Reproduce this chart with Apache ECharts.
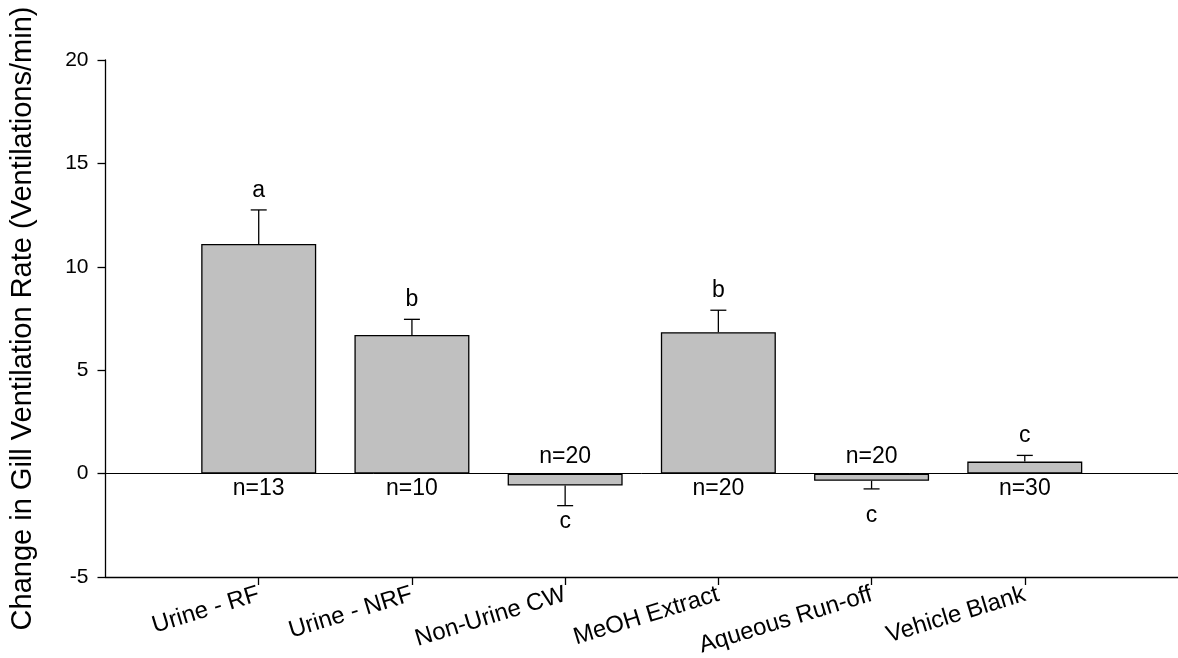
<!DOCTYPE html>
<html>
<head>
<meta charset="utf-8">
<script src="https://cdn.jsdelivr.net/npm/echarts@6/dist/echarts.min.js"></script>
<style>
  html, body { margin: 0; padding: 0; background: #fff; }
  #chart { width: 1178px; height: 658px; }
</style>
</head>
<body>
<div id="chart"></div>
<script>
// Treatment groups and their mean change in gill ventilation rate (± SEM)
const categories = ['Urine - RF', 'Urine - NRF', 'Non-Urine CW', 'MeOH Extract', 'Aqueous Run-off', 'Vehicle Blank'];
const means = [11.1, 6.7, -0.58, 6.84, -0.35, 0.58];
const sems = [1.65, 0.76, 0.97, 1.06, 0.39, 0.3];
const groupLetters = ['a', 'b', 'c', 'b', 'c', 'c'];
const sampleSizes = [13, 10, 20, 20, 20, 30];
const yTicks = { min: -5, max: 20, step: 5 };

const FONT = "'Liberation Sans', Arial, sans-serif";

// Padding slots on either side of the six treatments so the axis runs past them
const axisSlots = [''].concat(categories, ['']);
const barData = [null].concat(means, [null]);
const errData = means.map((m, i) => [i + 1, m, sems[i]]);
const isTreatment = (idx) => idx >= 1 && idx <= categories.length;

const chart = echarts.init(document.getElementById('chart'), null, { renderer: 'canvas' });

chart.setOption({
  backgroundColor: '#fff',
  animation: false,
  grid: { left: 105.5, right: 0, top: 60, bottom: 81, containLabel: false, outerBoundsMode: 'none' },
  xAxis: {
    type: 'category',
    data: axisSlots,
    boundaryGap: false,
    axisLine: { show: true, onZero: false, lineStyle: { color: '#000', width: 1.3 } },
    axisTick: { show: true, length: 8, inside: false, interval: isTreatment, lineStyle: { color: '#000', width: 1.3 } },
    axisLabel: {
      interval: isTreatment,
      rotate: 17,
      margin: 17,
      color: '#000',
      fontFamily: FONT,
      fontSize: 24
    },
    splitLine: { show: false }
  },
  yAxis: {
    type: 'value',
    min: yTicks.min,
    max: yTicks.max,
    interval: yTicks.step,
    name: 'Change in Gill Ventilation Rate (Ventilations/min)',
    nameLocation: 'middle',
    nameGap: 68,
    nameTextStyle: { color: '#000', fontFamily: FONT, fontSize: 29 },
    axisLine: { show: true, lineStyle: { color: '#000', width: 1.3 } },
    axisTick: { show: true, length: 8, inside: false, lineStyle: { color: '#000', width: 1.3 } },
    axisLabel: { color: '#000', fontFamily: FONT, fontSize: 21, margin: 17 },
    splitLine: { show: false }
  },
  series: [
    {
      type: 'bar',
      data: barData,
      barWidth: 115,
      itemStyle: { color: '#c0c0c0', borderColor: '#000', borderWidth: 1.3 },
      markLine: {
        silent: true,
        symbol: ['none', 'none'],
        label: { show: false },
        lineStyle: { color: '#000', width: 1, type: 'solid' },
        data: [{ yAxis: 0 }]
      },
      z: 2
    },
    {
      // Error bars with significance letters and sample-size labels
      type: 'custom',
      data: errData,
      z: 3,
      renderItem: function (params, api) {
        const i = params.dataIndex;
        const x = api.value(0);
        const m = api.value(1);
        const e = api.value(2);
        const up = m >= 0;
        const end = up ? m + e : m - e;
        const p0 = api.coord([x, m]);
        const p1 = api.coord([x, end]);
        const z0 = api.coord([x, 0]);
        const half = 8;
        const stroke = { stroke: '#000', lineWidth: 1.3 };
        const label = (txt, y, va) => ({
          type: 'text',
          style: {
            text: txt, x: p0[0], y: y,
            textAlign: 'center', textVerticalAlign: va,
            fill: '#000', fontFamily: FONT, fontSize: 23
          }
        });
        // Letters under short negative bars sit below the zero-line label band
        const lowLetterY = Math.max(p1[1] + 5, z0[1] + 31);
        return {
          type: 'group',
          children: [
            { type: 'line', shape: { x1: p0[0], y1: p0[1], x2: p1[0], y2: p1[1] }, style: stroke },
            { type: 'line', shape: { x1: p1[0] - half, y1: p1[1], x2: p1[0] + half, y2: p1[1] }, style: stroke },
            up ? label(groupLetters[i], p1[1] - 8, 'bottom') : label(groupLetters[i], lowLetterY, 'top'),
            up ? label('n=' + sampleSizes[i], z0[1] + 4, 'top') : label('n=' + sampleSizes[i], z0[1] - 5, 'bottom')
          ]
        };
      }
    }
  ]
});
</script>
</body>
</html>
